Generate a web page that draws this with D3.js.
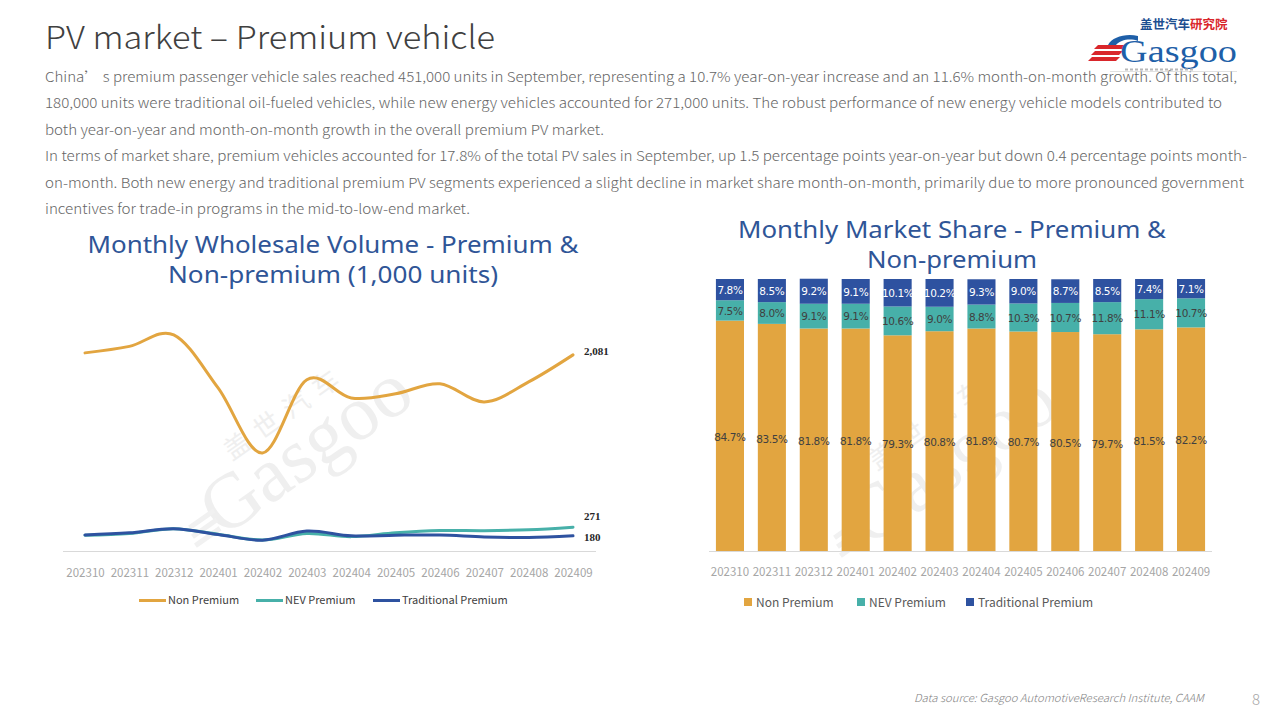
<!DOCTYPE html>
<html>
<head>
<meta charset="utf-8">
<script src="https://cdn.jsdelivr.net/npm/d3@7"></script>
<style>
  html, body { margin: 0; padding: 0; background: #ffffff; }
  svg { display: block; }
</style>
</head>
<body>
<svg id="chart" width="1280" height="720"></svg>
<script>
// ---------------- DATA ----------------
const months = ["202310","202311","202312","202401","202402","202403","202404","202405","202406","202407","202408","202409"];
const seriesNames = ["Non Premium", "NEV Premium", "Traditional Premium"];
// Wholesale volume, 1,000 units
const volNonPremium = [2102, 2170, 2291, 1734, 1051, 1819, 1629, 1672, 1777, 1587, 1797, 2081];
const volNEVPremium = [186, 205, 255, 196, 137, 205, 172, 212, 236, 235, 244, 271];
const volTradPremium = [190, 212, 255, 195, 135, 230, 180, 187, 188, 168, 162, 180];
// Market share, %
const shareNonPremium = [84.7, 83.5, 81.8, 81.8, 79.3, 80.8, 81.8, 80.7, 80.5, 79.7, 81.5, 82.2];
const shareNEVPremium = [7.5, 8.0, 9.1, 9.1, 10.6, 9.0, 8.8, 10.3, 10.7, 11.8, 11.1, 10.7];
const shareTradPremium = [7.8, 8.5, 9.2, 9.1, 10.1, 10.2, 9.3, 9.0, 8.7, 8.5, 7.4, 7.1];

const pageTitle = "PV market – Premium vehicle";
const bodyLines = [
  "China’ s premium passenger vehicle sales reached 451,000 units in September, representing a 10.7% year-on-year increase and an 11.6% month-on-month growth. Of this total,",
  "180,000 units were traditional oil-fueled vehicles, while new energy vehicles accounted for 271,000 units. The robust performance of new energy vehicle models contributed to",
  "both year-on-year and month-on-month growth in the overall premium PV market.",
  "In terms of market share, premium vehicles accounted for 17.8% of the total PV sales in September, up 1.5 percentage points year-on-year but down 0.4 percentage points month-",
  "on-month. Both new energy and traditional premium PV segments experienced a slight decline in market share month-on-month, primarily due to more pronounced government",
  "incentives for trade-in programs in the mid-to-low-end market."
];
const leftTitle = ["Monthly Wholesale Volume - Premium &", "Non-premium (1,000 units)"];
const rightTitle = ["Monthly Market Share - Premium &", "Non-premium"];
const footerText = "Data source: Gasgoo AutomotiveResearch Institute, CAAM";
const pageNumber = "8";

// ---------------- STYLE ----------------
const colNon = "#E2A540", colNEV = "#47B0A9", colTrad = "#2E52A0";
const titleBlue = "#2F5597";
const bodyFont = "'Noto Sans CJK SC', 'Noto Sans', sans-serif";
const titleFont = "'Noto Sans', 'Open Sans', sans-serif";

const svg = d3.select("#chart");

// ---------- Header ----------
svg.append("text").attr("x", 45).attr("y", 49)
  .attr("font-family", bodyFont).attr("font-weight", 300)
  .attr("font-size", 32).attr("fill", "#404040")
  .attr("textLength", 450).attr("lengthAdjust", "spacingAndGlyphs")
  .text(pageTitle);

const bodyWidths = [1192, 1177, 559, 1202, 1199, 425];
const bodyBase = [82, 108, 135, 161, 188, 214];
bodyLines.forEach((t, i) => {
  svg.append("text").attr("x", 45).attr("y", bodyBase[i])
    .attr("font-family", bodyFont).attr("font-weight", 300)
    .attr("font-size", 13.5).attr("fill", "#666666")
    .attr("textLength", bodyWidths[i]).attr("lengthAdjust", "spacingAndGlyphs")
    .text(t);
});

// ---------- Logo ----------
const logo = svg.append("g");
logo.append("text").attr("x", 1140).attr("y", 29)
  .attr("font-family", "'Noto Sans CJK SC', sans-serif").attr("font-weight", 700)
  .attr("font-size", 12.5).attr("fill", "#1E4F91").text("盖世汽车")
  .append("tspan").attr("fill", "#D9262B").text("研究院");
[[1094, 45], [1091, 51], [1088, 57]].forEach(([x, y]) => {
  logo.append("path").attr("d", `M${x+4},${y} L${x+32},${y} L${x+28},${y+4} L${x},${y+4} Z`).attr("fill", "#D9262B");
});
logo.append("path")
  .attr("d", "M1138,36 C1126,33 1112,37 1108,45 L1116,45 C1120,40 1130,38 1138,41 Z")
  .attr("fill", "#1E5FA8");
logo.append("text").attr("x", 1120).attr("y", 62)
  .attr("font-family", "'Liberation Serif', serif").attr("font-size", 32)
  .attr("fill", "#1E5FA8").attr("textLength", 117).attr("lengthAdjust", "spacingAndGlyphs")
  .text("Gasgoo");
logo.append("line").attr("x1", 1110).attr("x2", 1237).attr("y1", 71.5).attr("y2", 71.5)
  .attr("stroke", "#cccccc").attr("stroke-width", 0.6);
logo.append("line").attr("x1", 1125).attr("x2", 1195).attr("y1", 69.5).attr("y2", 69.5)
  .attr("stroke", "#b8b8b8").attr("stroke-width", 2).attr("stroke-dasharray", "3,2");

// ---------- Watermarks ----------
function watermark(cx, cy) {
  const g = svg.append("g").attr("transform", `translate(${cx},${cy}) rotate(-35)`).attr("opacity", 0.55);
  g.append("text").attr("x", 0).attr("y", 0).attr("text-anchor", "middle")
    .attr("font-family", "'Liberation Serif', serif").attr("font-size", 78)
    .attr("fill", "#e2e2e2").text("Gasgoo");
  g.append("text").attr("x", 5).attr("y", -58).attr("text-anchor", "middle")
    .attr("font-family", "'Noto Sans CJK SC', sans-serif").attr("font-size", 26)
    .attr("fill", "#e2e2e2").attr("letter-spacing", 10).text("盖世汽车");
  [0, 9, 18].forEach(d => {
    g.append("rect").attr("x", -140 - d * 0.3).attr("y", -30 + d).attr("width", 30).attr("height", 5).attr("fill", "#e6e6e6");
  });
}
watermark(320, 470);
watermark(965, 480);

// ---------- Left chart: line ----------
const xL = d3.scalePoint().domain(months).range([85, 573]);
const yL = d3.scaleLinear().domain([0, 2500]).range([553, 553 - 2500 * 0.09521]);

const leftTitleW = [491, 330];
leftTitle.forEach((t, i) => {
  svg.append("text").attr("x", 333).attr("y", 253 + i * 30).attr("text-anchor", "middle")
    .attr("font-family", titleFont).attr("font-size", 24).attr("fill", titleBlue)
    .attr("textLength", leftTitleW[i]).attr("lengthAdjust", "spacingAndGlyphs")
    .text(t);
});

// axis line + labels
svg.append("line").attr("x1", 63).attr("x2", 596).attr("y1", 551.5).attr("y2", 551.5)
  .attr("stroke", "#d9d9d9").attr("stroke-width", 1);
const axL = d3.axisBottom(xL).tickSize(0).tickPadding(0);
const gAxL = svg.append("g").attr("transform", "translate(0,569)").call(axL);
gAxL.select(".domain").remove();
gAxL.selectAll("text").attr("font-family", bodyFont).attr("font-size", 11.5)
  .attr("fill", "#a6a6a6").attr("dy", "0.71em");

const lineGen = d3.line().x((d, i) => xL(months[i])).y(d => yL(d)).curve(d3.curveCardinal.tension(0));
const lineSeries = [
  { vals: volNonPremium, color: colNon },
  { vals: volNEVPremium, color: colNEV },
  { vals: volTradPremium, color: colTrad }
];
lineSeries.forEach(s => {
  svg.append("path").datum(s.vals).attr("d", lineGen)
    .attr("fill", "none").attr("stroke", s.color).attr("stroke-width", 3)
    .attr("stroke-linecap", "round");
});

// end labels
const endLbls = [
  { v: volNonPremium[11], dy: -4 },
  { v: volNEVPremium[11], dy: -11 },
  { v: volTradPremium[11], dy: 1 }
];
endLbls.forEach(l => {
  svg.append("text").attr("x", 584).attr("y", yL(l.v) + l.dy).attr("dy", "0.35em")
    .attr("font-family", "'Liberation Serif', serif").attr("font-weight", 700)
    .attr("font-size", 11).attr("fill", "#262626")
    .text(d3.format(",")(l.v));
});

// left legend
const legL = [
  { name: seriesNames[0], color: colNon, x: 139 },
  { name: seriesNames[1], color: colNEV, x: 256 },
  { name: seriesNames[2], color: colTrad, x: 373 }
];
legL.forEach(l => {
  svg.append("line").attr("x1", l.x).attr("x2", l.x + 27).attr("y1", 600.5).attr("y2", 600.5)
    .attr("stroke", l.color).attr("stroke-width", 3);
  svg.append("text").attr("x", l.x + 29).attr("y", 600).attr("dy", "0.35em")
    .attr("font-family", bodyFont).attr("font-size", 11).attr("fill", "#404040")
    .text(l.name);
});

// ---------- Right chart: stacked bars ----------
const rightTitleW = [428, 170];
rightTitle.forEach((t, i) => {
  svg.append("text").attr("x", 952).attr("y", 238 + i * 30).attr("text-anchor", "middle")
    .attr("font-family", titleFont).attr("font-size", 24).attr("fill", titleBlue)
    .attr("textLength", rightTitleW[i]).attr("lengthAdjust", "spacingAndGlyphs")
    .text(t);
});

const xR = d3.scaleBand().domain(months).range([709, 1212]).paddingInner(0.33).paddingOuter(0.165);
const yR = d3.scaleLinear().domain([0, 100]).range([551, 279]);

const rows = months.map((m, i) => ({
  month: m, non: shareNonPremium[i], nev: shareNEVPremium[i], trad: shareTradPremium[i]
}));
const stack = d3.stack().keys(["non", "nev", "trad"])(rows);
const fills = { non: colNon, nev: colNEV, trad: colTrad };

stack.forEach(layer => {
  svg.append("g").selectAll("rect").data(layer).join("rect")
    .attr("x", d => xR(d.data.month))
    .attr("width", xR.bandwidth())
    .attr("y", d => yR(d[1]))
    .attr("height", d => yR(d[0]) - yR(d[1]))
    .attr("fill", fills[layer.key]);
});
stack.forEach(layer => {
  svg.append("g").selectAll("text").data(layer).join("text")
    .attr("x", d => xR(d.data.month) + xR.bandwidth() / 2)
    .attr("y", d => (yR(d[0]) + yR(d[1])) / 2 + (layer.key === "non" ? 1.5 : 0.5))
    .attr("dy", "0.35em").attr("text-anchor", "middle")
    .attr("font-family", "'DejaVu Sans', sans-serif").attr("font-size", 10.5)
    .attr("letter-spacing", -0.4)
    .attr("fill", layer.key === "trad" ? "#ffffff" : "#404040")
    .text(d => d.data[layer.key].toFixed(1) + "%");
});

svg.append("line").attr("x1", 709).attr("x2", 1212).attr("y1", 551.5).attr("y2", 551.5)
  .attr("stroke", "#d9d9d9").attr("stroke-width", 1);
const axR = d3.axisBottom(xR).tickSize(0).tickPadding(0);
const gAxR = svg.append("g").attr("transform", "translate(0,568)").call(axR);
gAxR.select(".domain").remove();
gAxR.selectAll("text").attr("font-family", bodyFont).attr("font-size", 11.5)
  .attr("fill", "#a6a6a6").attr("dy", "0.71em");

// right legend
const legR = [
  { name: seriesNames[0], color: colNon, x: 744 },
  { name: seriesNames[1], color: colNEV, x: 857 },
  { name: seriesNames[2], color: colTrad, x: 966 }
];
legR.forEach(l => {
  svg.append("rect").attr("x", l.x).attr("y", 598).attr("width", 8).attr("height", 8).attr("fill", l.color);
  svg.append("text").attr("x", l.x + 12).attr("y", 602.5).attr("dy", "0.35em")
    .attr("font-family", bodyFont).attr("font-size", 12).attr("fill", "#595959")
    .text(l.name);
});

// ---------- Footer ----------
svg.append("text").attr("x", 914).attr("y", 702)
  .attr("font-family", bodyFont).attr("font-style", "italic").attr("font-weight", 300)
  .attr("font-size", 11).attr("fill", "#7f7f7f")
  .attr("textLength", 290).attr("lengthAdjust", "spacingAndGlyphs")
  .text(footerText);
svg.append("text").attr("x", 1252).attr("y", 705)
  .attr("font-family", bodyFont).attr("font-weight", 300)
  .attr("font-size", 15).attr("fill", "#a6a6a6").text(pageNumber);
</script>
</body>
</html>
